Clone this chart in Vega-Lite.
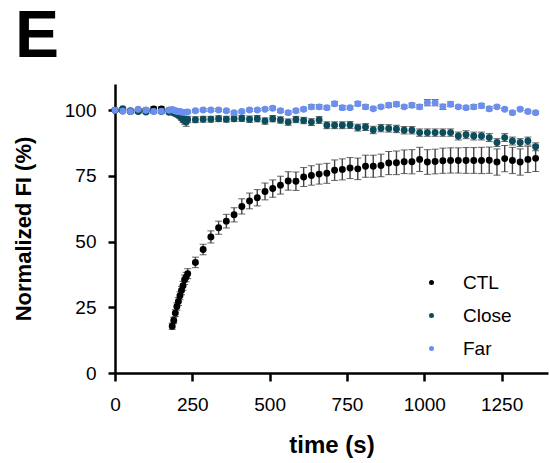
{
  "$schema": "https://vega.github.io/schema/vega-lite/v6.json",
  "autosize": "none",
  "padding": {"left": 115, "top": 84, "right": 1, "bottom": 90},
  "width": 433,
  "height": 289,
  "background": "white",
  "title": {"text": "E", "anchor": "start", "frame": "group", "dx": -100, "dy": 77, "offset": 24, "baseline": "bottom", "fontSize": 66, "font": "Liberation Sans", "fontWeight": "bold", "color": "black"},
  "config": {"view": {"stroke": null}, "font": "Liberation Sans"},
  "data": {"values": [
    {"g":"CTL","t":0,"v":100,"e":0.5},{"g":"CTL","t":25,"v":99.8,"e":0.5},{"g":"CTL","t":50,"v":99.5,"e":0.5},{"g":"CTL","t":75,"v":99.8,"e":0.6},{"g":"CTL","t":100,"v":100,"e":0.6},{"g":"CTL","t":125,"v":100.5,"e":0.8},{"g":"CTL","t":150,"v":100.5,"e":0.8},{"g":"CTL","t":175,"v":100,"e":0.6},
    {"g":"CTL","t":185,"v":17.8,"e":1.2},{"g":"CTL","t":190,"v":20,"e":1.2},{"g":"CTL","t":195,"v":22.8,"e":1.3},{"g":"CTL","t":200,"v":25.3,"e":1.4},{"g":"CTL","t":205,"v":27.2,"e":1.5},{"g":"CTL","t":210,"v":29.4,"e":1.5},{"g":"CTL","t":215,"v":31.4,"e":1.6},{"g":"CTL","t":220,"v":33.2,"e":1.7},{"g":"CTL","t":225,"v":35.5,"e":1.8},{"g":"CTL","t":230,"v":36.5,"e":1.8},{"g":"CTL","t":235,"v":37.8,"e":1.9},
    {"g":"CTL","t":260,"v":42.1,"e":2},{"g":"CTL","t":285,"v":47,"e":2},{"g":"CTL","t":310,"v":51.8,"e":2.3},{"g":"CTL","t":335,"v":55.3,"e":2.5},{"g":"CTL","t":360,"v":57.8,"e":2.6},{"g":"CTL","t":385,"v":60.2,"e":2.7},{"g":"CTL","t":410,"v":63.4,"e":2.9},{"g":"CTL","t":435,"v":65.5,"e":3},{"g":"CTL","t":460,"v":66.7,"e":3.1},{"g":"CTL","t":485,"v":69.1,"e":3.2},{"g":"CTL","t":510,"v":70.2,"e":3.3},{"g":"CTL","t":535,"v":71.5,"e":3.4},{"g":"CTL","t":560,"v":73.1,"e":3.5},{"g":"CTL","t":585,"v":73,"e":3.5},{"g":"CTL","t":610,"v":74.6,"e":3.6},{"g":"CTL","t":635,"v":75.2,"e":3.7},{"g":"CTL","t":660,"v":75.7,"e":3.8},{"g":"CTL","t":685,"v":76,"e":3.8},{"g":"CTL","t":710,"v":77.2,"e":3.9},{"g":"CTL","t":735,"v":77.5,"e":4},{"g":"CTL","t":760,"v":78,"e":4},{"g":"CTL","t":785,"v":77.7,"e":4.1},{"g":"CTL","t":810,"v":78.7,"e":4.2},{"g":"CTL","t":835,"v":78.7,"e":4.2},{"g":"CTL","t":860,"v":79,"e":4.3},{"g":"CTL","t":885,"v":79.9,"e":4.4},{"g":"CTL","t":910,"v":80,"e":4.5},{"g":"CTL","t":935,"v":80.4,"e":4.5},{"g":"CTL","t":960,"v":80.4,"e":4.6},{"g":"CTL","t":985,"v":81.3,"e":4.6},{"g":"CTL","t":1010,"v":80.3,"e":4.7},{"g":"CTL","t":1035,"v":80.5,"e":4.7},{"g":"CTL","t":1060,"v":80.8,"e":4.8},{"g":"CTL","t":1085,"v":80.9,"e":4.8},{"g":"CTL","t":1110,"v":80.9,"e":4.8},{"g":"CTL","t":1135,"v":80.9,"e":4.9},{"g":"CTL","t":1160,"v":80.9,"e":4.9},{"g":"CTL","t":1185,"v":80.9,"e":5},{"g":"CTL","t":1210,"v":81,"e":5},{"g":"CTL","t":1235,"v":80.3,"e":5},{"g":"CTL","t":1260,"v":81.6,"e":5},{"g":"CTL","t":1285,"v":80.9,"e":5},{"g":"CTL","t":1310,"v":80.3,"e":5},{"g":"CTL","t":1335,"v":81.3,"e":5},{"g":"CTL","t":1360,"v":81.7,"e":5},

    {"g":"Close","t":0,"v":100,"e":0.4},{"g":"Close","t":25,"v":100.6,"e":0.5},{"g":"Close","t":50,"v":99.8,"e":0.5},{"g":"Close","t":75,"v":99.5,"e":0.5},{"g":"Close","t":100,"v":99.3,"e":0.5},{"g":"Close","t":125,"v":99.6,"e":0.6},{"g":"Close","t":150,"v":99.5,"e":0.6},{"g":"Close","t":175,"v":99.2,"e":0.6},
    {"g":"Close","t":185,"v":99.5,"e":0.6},{"g":"Close","t":190,"v":99,"e":0.6},{"g":"Close","t":195,"v":98.8,"e":0.7},{"g":"Close","t":200,"v":98.5,"e":0.7},{"g":"Close","t":205,"v":98.2,"e":0.8},{"g":"Close","t":210,"v":97.7,"e":0.9},{"g":"Close","t":215,"v":97.2,"e":1},{"g":"Close","t":220,"v":96.5,"e":1.1},{"g":"Close","t":225,"v":96,"e":1.3},{"g":"Close","t":230,"v":95.5,"e":1.6},{"g":"Close","t":235,"v":96.5,"e":1.2},
    {"g":"Close","t":260,"v":96.4,"e":1.1},{"g":"Close","t":285,"v":96.6,"e":1.1},{"g":"Close","t":310,"v":96.6,"e":1.1},{"g":"Close","t":335,"v":96.8,"e":1.1},{"g":"Close","t":360,"v":96.6,"e":1.1},{"g":"Close","t":385,"v":96.8,"e":1.1},{"g":"Close","t":410,"v":96.9,"e":1.1},{"g":"Close","t":435,"v":96.6,"e":1.2},{"g":"Close","t":460,"v":96.8,"e":1.2},{"g":"Close","t":485,"v":95.9,"e":1.2},{"g":"Close","t":510,"v":96.8,"e":1.2},{"g":"Close","t":535,"v":96.3,"e":1.2},{"g":"Close","t":560,"v":95.5,"e":1.2},{"g":"Close","t":585,"v":96.5,"e":1.2},{"g":"Close","t":610,"v":96.1,"e":1.2},{"g":"Close","t":635,"v":95.5,"e":1.3},{"g":"Close","t":660,"v":96.3,"e":1.3},{"g":"Close","t":685,"v":94.3,"e":1.3},{"g":"Close","t":710,"v":94.3,"e":1.3},{"g":"Close","t":735,"v":94.3,"e":1.3},{"g":"Close","t":760,"v":94.4,"e":1.3},{"g":"Close","t":785,"v":93.4,"e":1.3},{"g":"Close","t":810,"v":93.6,"e":1.3},{"g":"Close","t":835,"v":92.5,"e":1.4},{"g":"Close","t":860,"v":93.2,"e":1.4},{"g":"Close","t":885,"v":93.1,"e":1.4},{"g":"Close","t":910,"v":92.9,"e":1.4},{"g":"Close","t":935,"v":92.4,"e":1.4},{"g":"Close","t":960,"v":92.4,"e":1.4},{"g":"Close","t":985,"v":91.5,"e":1.4},{"g":"Close","t":1010,"v":91.5,"e":1.4},{"g":"Close","t":1035,"v":91.5,"e":1.4},{"g":"Close","t":1060,"v":91.5,"e":1.4},{"g":"Close","t":1085,"v":91.5,"e":1.4},{"g":"Close","t":1110,"v":90.2,"e":1.5},{"g":"Close","t":1135,"v":90.7,"e":1.5},{"g":"Close","t":1160,"v":90.2,"e":1.5},{"g":"Close","t":1185,"v":90.2,"e":1.5},{"g":"Close","t":1210,"v":89.6,"e":1.5},{"g":"Close","t":1235,"v":87.7,"e":1.5},{"g":"Close","t":1260,"v":89.6,"e":1.5},{"g":"Close","t":1285,"v":88.3,"e":1.5},{"g":"Close","t":1310,"v":87.7,"e":1.5},{"g":"Close","t":1335,"v":88.3,"e":1.5},{"g":"Close","t":1360,"v":86.1,"e":1.5},

    {"g":"Far","t":0,"v":100,"e":0.3},{"g":"Far","t":25,"v":99.6,"e":0.3},{"g":"Far","t":50,"v":99.5,"e":0.3},{"g":"Far","t":75,"v":100.4,"e":0.3},{"g":"Far","t":100,"v":100,"e":0.3},{"g":"Far","t":125,"v":99.5,"e":0.3},{"g":"Far","t":150,"v":99.6,"e":0.3},{"g":"Far","t":175,"v":100,"e":0.3},
    {"g":"Far","t":185,"v":100.3,"e":0.4},{"g":"Far","t":190,"v":100,"e":0.4},{"g":"Far","t":195,"v":99.8,"e":0.4},{"g":"Far","t":200,"v":99.6,"e":0.4},{"g":"Far","t":205,"v":99.5,"e":0.4},{"g":"Far","t":210,"v":99.5,"e":0.4},{"g":"Far","t":215,"v":99.3,"e":0.4},{"g":"Far","t":220,"v":99.2,"e":0.4},{"g":"Far","t":225,"v":99.2,"e":0.4},{"g":"Far","t":230,"v":99.3,"e":0.4},{"g":"Far","t":235,"v":99.4,"e":0.4},
    {"g":"Far","t":260,"v":99.8,"e":0.5},{"g":"Far","t":285,"v":100.1,"e":0.5},{"g":"Far","t":310,"v":100.1,"e":0.5},{"g":"Far","t":335,"v":100.1,"e":0.5},{"g":"Far","t":360,"v":99.8,"e":0.5},{"g":"Far","t":385,"v":99.1,"e":0.5},{"g":"Far","t":410,"v":99.5,"e":0.5},{"g":"Far","t":435,"v":100.1,"e":0.5},{"g":"Far","t":460,"v":100.1,"e":0.5},{"g":"Far","t":485,"v":100.4,"e":0.5},{"g":"Far","t":510,"v":100.8,"e":0.6},{"g":"Far","t":535,"v":99.8,"e":0.6},{"g":"Far","t":560,"v":99.1,"e":0.6},{"g":"Far","t":585,"v":99.8,"e":0.6},{"g":"Far","t":610,"v":100.4,"e":0.6},{"g":"Far","t":635,"v":101.3,"e":0.8},{"g":"Far","t":660,"v":101.3,"e":0.8},{"g":"Far","t":685,"v":101,"e":0.6},{"g":"Far","t":710,"v":102.5,"e":0.8},{"g":"Far","t":735,"v":101,"e":0.8},{"g":"Far","t":760,"v":101,"e":0.6},{"g":"Far","t":785,"v":102.5,"e":0.8},{"g":"Far","t":810,"v":101.3,"e":0.8},{"g":"Far","t":835,"v":100.6,"e":0.6},{"g":"Far","t":860,"v":101.3,"e":0.6},{"g":"Far","t":885,"v":101.9,"e":0.8},{"g":"Far","t":910,"v":102.3,"e":0.8},{"g":"Far","t":935,"v":101.3,"e":0.6},{"g":"Far","t":960,"v":101.9,"e":0.8},{"g":"Far","t":985,"v":101.3,"e":0.8},{"g":"Far","t":1010,"v":102.9,"e":1.2},{"g":"Far","t":1035,"v":102.9,"e":1.2},{"g":"Far","t":1060,"v":101.3,"e":1},{"g":"Far","t":1085,"v":102.3,"e":0.9},{"g":"Far","t":1110,"v":101.3,"e":0.6},{"g":"Far","t":1135,"v":101,"e":0.6},{"g":"Far","t":1160,"v":101.3,"e":0.8},{"g":"Far","t":1185,"v":101.7,"e":0.8},{"g":"Far","t":1210,"v":100.6,"e":0.8},{"g":"Far","t":1235,"v":101.3,"e":0.6},{"g":"Far","t":1260,"v":100.4,"e":0.5},{"g":"Far","t":1285,"v":99.1,"e":0.5},{"g":"Far","t":1310,"v":100.4,"e":0.5},{"g":"Far","t":1335,"v":99.5,"e":0.5},{"g":"Far","t":1360,"v":99.1,"e":0.5}
  ]},
  "encoding": {
    "x": {"field": "t", "type": "quantitative", "scale": {"domain": [0, 1400], "nice": false},
      "axis": {"title": "time (s)", "values": [0, 250, 500, 750, 1000, 1250], "format": "d", "grid": false, "labelFlush": false,
        "domainColor": "black", "domainWidth": 2.5, "tickColor": "black", "tickWidth": 2.5, "tickSize": 8,
        "labelFont": "Liberation Sans", "labelFontSize": 19, "labelColor": "black", "labelPadding": 14,
        "titleFont": "Liberation Sans", "titleFontSize": 24, "titleFontWeight": "bold", "titleColor": "black", "titlePadding": 19}},
    "y": {"field": "v", "type": "quantitative", "scale": {"domain": [0, 110], "nice": false},
      "axis": {"title": "Normalized FI (%)", "values": [0, 25, 50, 75, 100], "grid": false,
        "domainColor": "black", "domainWidth": 2.5, "tickColor": "black", "tickWidth": 2.5, "tickSize": 7,
        "labelFont": "Liberation Sans", "labelFontSize": 19, "labelColor": "black", "labelPadding": 12,
        "titleFont": "Liberation Sans", "titleFontSize": 22, "titleFontWeight": "bold", "titleColor": "black", "titlePadding": 29}}
  },
  "layer": [
    {
      "mark": {"type": "errorbar", "ticks": {"size": 7, "color": "#222222", "strokeWidth": 1.4}, "rule": {"color": "#444444", "strokeWidth": 1.4}},
      "encoding": {
        "yError": {"field": "e"},
        "detail": {"field": "g", "type": "nominal"}
      }
    },
    {
      "mark": {"type": "point", "filled": true, "shape": "circle", "size": 48, "opacity": 1},
      "encoding": {
        "color": {"field": "g", "type": "nominal",
          "scale": {"domain": ["CTL", "Close", "Far"], "range": ["#000000", "#0b4d5c", "#6a8fee"]},
          "legend": {"title": null, "orient": "none", "legendX": 307, "legendY": 189, "symbolSize": 25, "symbolOpacity": 1,
            "labelFont": "Liberation Sans", "labelFontSize": 19, "labelColor": "black", "labelOffset": 22, "rowPadding": 13}}
      }
    }
  ]
}
